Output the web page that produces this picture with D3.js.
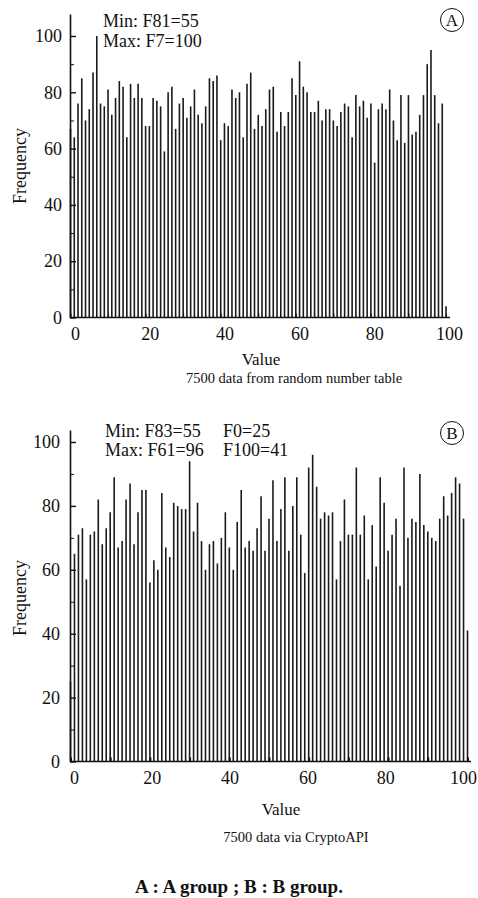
<!DOCTYPE html>
<html>
<head>
<meta charset="utf-8">
<script src="https://cdnjs.cloudflare.com/ajax/libs/d3/7.8.5/d3.min.js"></script>
<style>
  body { margin: 0; background: #fff; }
  svg text { font-family: "Liberation Serif", "DejaVu Serif", serif; fill: #111; }
  .axis path, .axis line { stroke: #111; }
</style>
</head>
<body>
<svg id="chart" width="478" height="898"></svg>
<script>
// values 0..100, frequency
var valuesAxis = d3.range(0, 101);

var freqA = [67, 64, 76, 85, 70, 74, 87, 100, 76, 75,
             81, 72, 78, 84, 82, 64, 83, 78, 83, 78,
             68, 68, 78, 77, 75, 59, 80, 82, 67, 76,
             78, 71, 75, 81, 72, 69, 75, 85, 84, 86,
             63, 69, 68, 81, 78, 80, 64, 83, 87, 67,
             72, 68, 74, 81, 82, 66, 73, 68, 73, 85,
             79, 91, 82, 80, 73, 73, 77, 70, 74, 74,
             70, 68, 73, 76, 75, 64, 79, 75, 77, 71,
             76, 55, 74, 76, 74, 81, 70, 63, 79, 62,
             79, 65, 66, 72, 79, 90, 95, 79, 69, 76,
             4];

var freqB = [25, 65, 71, 73, 57, 71, 72, 82, 68, 73,
             78, 89, 67, 69, 82, 87, 68, 78, 85, 85,
             56, 63, 60, 84, 67, 64, 81, 80, 79, 79,
             94, 72, 81, 69, 60, 68, 69, 62, 70, 78,
             67, 60, 75, 85, 67, 69, 66, 73, 83, 66,
             76, 88, 69, 79, 89, 66, 80, 89, 71, 59,
             92, 96, 86, 76, 78, 77, 78, 57, 69, 82,
             71, 71, 92, 71, 77, 57, 74, 61, 89, 81,
             66, 71, 76, 55, 92, 70, 76, 75, 90, 74,
             72, 70, 69, 76, 83, 77, 84, 89, 87, 76,
             41];

var xTickValues = [0, 20, 40, 60, 80, 100];
var xMinorTicks = [0, 10, 20, 30, 40, 50, 60, 70, 80, 90, 100];
var yTickValues = [0, 20, 40, 60, 80, 100];
var yMinorTicks = [10, 30, 50, 70, 90];

var notesA = [["Min: F81=55", ""], ["Max: F7=100", ""]];
var notesB = [["Min: F83=55", "F0=25"], ["Max: F61=96", "F100=41"]];

var svg = d3.select("#chart");

/**
 * Draws one frequency panel (a thin line for each value)
 */
function drawPanel(cfg) {
    var g = svg.append("g");

    var x = d3.scaleLinear().domain([0, 100]).range([cfg.x0, cfg.x100]);
    var y = d3.scaleLinear().domain([0, 100]).range([cfg.y0, cfg.y100]);
    // the printed tick labels sit a bit off the bars in the scan
    var xLab = d3.scaleLinear().domain([0, 100]).range(cfg.labelRange);
    // stretch the y axis a little past 100 like in the figure
    var yAx = y.copy().domain([0, y.invert(cfg.yTop)]).range([cfg.y0, cfg.yTop]);

    // bars
    g.selectAll(".bar")
        .data(cfg.data)
        .enter()
        .append("line")
        .attr("class", "bar")
        .attr("x1", (d, i) => x(valuesAxis[i]))
        .attr("x2", (d, i) => x(valuesAxis[i]))
        .attr("y1", y(0))
        .attr("y2", d => y(d))
        .style("stroke", "#1a1a1a")
        .style("stroke-width", 1.6);

    // y axis, ticks pointing inward
    var yg = g.append("g").attr("class", "axis")
        .attr("transform", `translate(${cfg.axisX},0)`)
        .call(d3.axisLeft(yAx).tickValues(yTickValues).tickSizeInner(-6).tickSizeOuter(0).tickPadding(cfg.yPad));
    yg.select(".domain").style("stroke-width", 1.6);
    yg.selectAll(".tick line").style("stroke-width", 1.4);
    yg.selectAll("text").style("font-size", "18px").style("font-family", null);

    var ym = g.append("g").attr("class", "axis")
        .attr("transform", `translate(${cfg.axisX},0)`)
        .call(d3.axisLeft(yAx).tickValues(yMinorTicks).tickSizeInner(-4).tickSizeOuter(0).tickFormat(""));
    ym.select(".domain").remove();

    // x axis line + inward ticks
    var xm = g.append("g").attr("class", "axis")
        .attr("transform", `translate(0,${cfg.y0})`)
        .call(d3.axisBottom(x).tickValues(xMinorTicks).tickSizeInner(-4).tickSizeOuter(0).tickFormat(""));
    xm.select(".domain").attr("d", `M${cfg.axisX},0H${cfg.xEnd}`).style("stroke-width", 1.6);
    xm.selectAll("line").style("stroke-width", cfg.xTickWidth);

    // x labels
    var xg = g.append("g").attr("class", "axis")
        .attr("transform", `translate(0,${cfg.y0})`)
        .call(d3.axisBottom(xLab).tickValues(xTickValues).tickSize(0).tickPadding(cfg.xPad));
    xg.select(".domain").remove();
    xg.selectAll("text").style("font-size", "18px").style("font-family", null);

    // axis titles
    g.append("text")
        .attr("transform", `translate(20,${cfg.freqY}) rotate(-90)`)
        .attr("text-anchor", "middle")
        .attr("dy", "0.35em")
        .style("font-size", "18px")
        .text("Frequency");

    g.append("text")
        .attr("x", cfg.valueX).attr("y", cfg.valueY)
        .attr("text-anchor", "middle")
        .style("font-size", "17px")
        .text("Value");

    g.append("text")
        .attr("x", cfg.subX).attr("y", cfg.subY)
        .attr("text-anchor", "middle")
        .style("font-size", "14.5px")
        .text(cfg.subtitle);

    // min / max notes
    cfg.notes.forEach((row, i) => {
        g.append("text").attr("x", cfg.noteX).attr("y", cfg.noteY + i * cfg.noteGap)
            .style("font-size", "18px").text(row[0]);
        g.append("text").attr("x", cfg.note2X).attr("y", cfg.noteY + i * cfg.noteGap)
            .style("font-size", "18px").text(row[1]);
    });

    // circled letter
    g.append("circle")
        .attr("cx", cfg.circle[0]).attr("cy", cfg.circle[1]).attr("r", 11.5)
        .style("fill", "none").style("stroke", "#111").style("stroke-width", 1);
    g.append("text")
        .attr("x", cfg.circle[0]).attr("y", cfg.circle[1])
        .attr("text-anchor", "middle").attr("dy", "0.35em")
        .style("font-size", "17px")
        .text(cfg.letter);
}

drawPanel({
    data: freqA, axisX: 70, x0: 70.5, x100: 446, xEnd: 450,
    y0: 317.5, y100: 36, yTop: 14, xPad: 10, yPad: 8, xTickWidth: 1,
    labelRange: [75, 449],
    freqY: 166,
    valueX: 261, valueY: 365, subX: 294, subY: 383,
    subtitle: "7500 data from random number table",
    notes: notesA, noteX: 103, note2X: 0, noteY: 27, noteGap: 20,
    circle: [452, 20], letter: "A"
});

drawPanel({
    data: freqB, axisX: 70, x0: 70.5, x100: 467.5, xEnd: 471,
    y0: 761.5, y100: 442, yTop: 430, xPad: 10, yPad: 10, xTickWidth: 2,
    labelRange: [74, 463],
    freqY: 598,
    valueX: 281, valueY: 815, subX: 296, subY: 842,
    subtitle: "7500 data via CryptoAPI",
    notes: notesB, noteX: 105, note2X: 223, noteY: 437, noteGap: 19,
    circle: [452, 433], letter: "B"
});

// caption
svg.append("text")
    .attr("x", 239).attr("y", 893)
    .attr("text-anchor", "middle")
    .style("font-size", "19px")
    .style("font-weight", "bold")
    .text("A : A group ; B : B group.");
</script>
</body>
</html>
